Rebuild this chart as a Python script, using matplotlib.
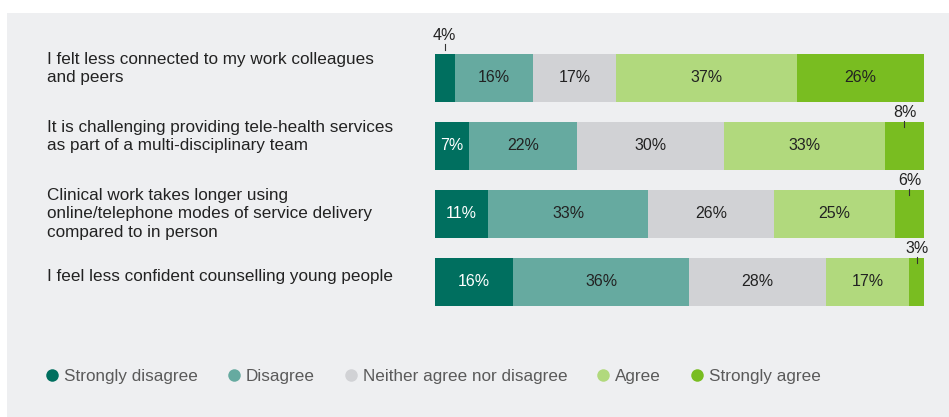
import numpy as np
import matplotlib.pyplot as plt
from matplotlib.patches import Rectangle
from matplotlib.lines import Line2D
from matplotlib.transforms import blended_transform_factory

plt.rcParams['font.family'] = ['Liberation Sans', 'DejaVu Sans']

statements = [
    'I felt less connected to my work colleagues\nand peers',
    'It is challenging providing tele-health services\nas part of a multi-disciplinary team',
    'Clinical work takes longer using\nonline/telephone modes of service delivery\ncompared to in person',
    'I feel less confident counselling young people',
]
responses = ['Strongly disagree', 'Disagree', 'Neither agree nor disagree',
             'Agree', 'Strongly agree']
strongly_disagree = [4, 7, 11, 16]
disagree = [16, 22, 33, 36]
neither = [17, 30, 26, 28]
agree = [37, 33, 25, 17]
strongly_agree = [26, 8, 6, 3]

colors = ['#006f5f', '#66aaa0', '#d1d2d5', '#b1d97d', '#79bd21']
text_colors = ['white', '#222222', '#222222', '#222222', '#222222']
# narrow segments labelled above the bar: (row, response index) -> extra lift
callouts = {(0, 0): 0.14, (1, 4): 0.0, (2, 4): 0.0, (3, 4): 0.0}

W, H = 949, 417
fig = plt.figure(figsize=(W / 100, H / 100), dpi=100)
fig.patch.set_facecolor('white')
fig.patches.append(Rectangle((7 / W, 0), 1, 1 - 13 / H, transform=fig.transFigure,
                             facecolor='#eeeff1', edgecolor='none', zorder=-10))

ax = fig.add_axes([435 / W, 1 - 316 / H, 489 / W, 272 / H])
ax.set_facecolor('none')

data = np.array([strongly_disagree, disagree, neither, agree, strongly_agree], dtype=float)
totals = data.sum(axis=0)
shares = data / totals * 100
y = np.arange(len(statements))
left = np.zeros(len(statements))
bar_h = 0.71
for k, name in enumerate(responses):
    ax.barh(y, shares[k], left=left, height=bar_h, color=colors[k], label=name)
    for i in range(len(statements)):
        cx = left[i] + shares[k][i] / 2
        label = f'{int(data[k][i])}%'
        if (i, k) in callouts:
            top = y[i] - bar_h / 2 - callouts[(i, k)]
            ax.plot([cx, cx], [top + 0.08, top - 0.01], color='#333333', lw=0.8,
                    clip_on=False, zorder=3)
            ax.text(cx, top - 0.02, label, ha='center', va='bottom', fontsize=11.5,
                    color='#222222')
        else:
            ax.text(cx, y[i], label, ha='center', va='center', fontsize=11.5,
                    color=text_colors[k])
    left += shares[k]

ax.set_xlim(0, 100)
ax.set_ylim(len(statements) - 0.5, -0.5)
ax.axis('off')

label_tf = blended_transform_factory(fig.transFigure, ax.transData)
for i, s in enumerate(statements):
    if '\n' in s:
        ax.text(47 / W, y[i] - bar_h / 2 - 0.03, s, transform=label_tf, ha='left',
                va='top', fontsize=12.3, color='#222222', linespacing=1.3)
    else:
        ax.text(47 / W, y[i] - 0.075, s, transform=label_tf, ha='left',
                va='center', fontsize=12.3, color='#222222')

handles = [Line2D([], [], marker='o', ls='none', markersize=9, markerfacecolor=c,
                  markeredgecolor='none') for c in colors]
fig.legend(handles, responses, loc='center left', bbox_to_anchor=(37 / W, 1 - 376 / H),
           ncol=5, frameon=False, fontsize=12.3, labelcolor='#5a5a5a',
           handletextpad=0.3, columnspacing=1.7, handlelength=0.8, borderpad=0)

fig.savefig('out.png', dpi=100)
